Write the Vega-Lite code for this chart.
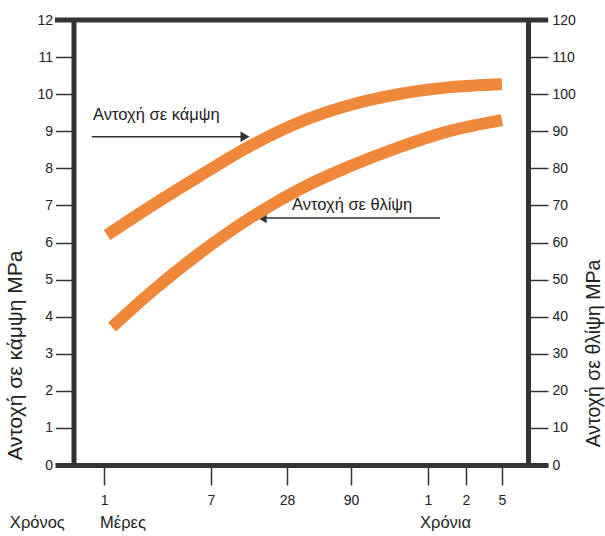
{
  "$schema": "https://vega.github.io/schema/vega-lite/v6.json",
  "width": 493,
  "height": 445,
  "autosize": "none",
  "padding": {"left": 55, "top": 20, "right": 57, "bottom": 71},
  "config": {
    "view": {"stroke": null},
    "font": "Liberation Sans",
    "axis": {
      "domainColor": "#333333",
      "domainWidth": 5,
      "tickColor": "#333333",
      "tickWidth": 1.5,
      "labelColor": "#222222",
      "labelFont": "Liberation Sans",
      "labelFontSize": 14,
      "labelOverlap": false,
      "grid": false,
      "titleFont": "Liberation Sans",
      "titleFontWeight": "normal",
      "titleColor": "#222222"
    },
    "axisLeft": {
      "values": [0, 1, 2, 3, 4, 5, 6, 7, 8, 9, 10, 11, 12],
      "offset": -18.5,
      "tickSize": 18,
      "labelPadding": 3,
      "labelOverlap": false,
      "titleFontSize": 21,
      "titleAngle": 270,
      "titleX": -52,
      "titleY": 335,
      "titleAlign": "center",
      "titleBaseline": "alphabetic"
    }
  },
  "datasets": {
    "flex": [
      {"days": 1.056, "v": 6.2},
      {"days": 2.31, "v": 6.96},
      {"days": 5.75, "v": 7.8},
      {"days": 14.3, "v": 8.6},
      {"days": 35.5, "v": 9.25},
      {"days": 88.4, "v": 9.71},
      {"days": 220, "v": 10.01},
      {"days": 546, "v": 10.19},
      {"days": 1825, "v": 10.27}
    ],
    "comp": [
      {"days": 1.157, "v": 37.2},
      {"days": 2.31, "v": 46.4},
      {"days": 5.75, "v": 57.2},
      {"days": 14.3, "v": 66.6},
      {"days": 35.5, "v": 74.4},
      {"days": 88.4, "v": 80.6},
      {"days": 220, "v": 85.8},
      {"days": 546, "v": 90.1},
      {"days": 1825, "v": 93.0}
    ],
    "arrows": [
      {"x1": 0.8, "x2": 13.05, "y": 8.85},
      {"x1": 17.8, "x2": 455, "y": 6.66}
    ],
    "heads": [
      {"x": 13.05, "y": 8.85, "shape": "triangle-right"},
      {"x": 17.8, "y": 6.66, "shape": "triangle-left"}
    ],
    "labels": [
      {"x": 0.82, "y": 9.44, "text": "Αντοχή σε κάμψη"},
      {"x": 30.7, "y": 7.01, "text": "Αντοχή σε θλίψη"},
      {"x": 0.18, "y": -1.56, "text": "Χρόνος"},
      {"x": 0.93, "y": -1.56, "text": "Μέρες"},
      {"x": 316, "y": -1.56, "text": "Χρόνια"}
    ]
  },
  "layer": [
    {
      "layer": [
        {
          "data": {"name": "flex"},
          "mark": {"type": "line", "color": "#F0883C", "strokeWidth": 12, "strokeCap": "butt", "interpolate": "monotone"},
          "encoding": {
            "x": {
              "field": "days", "type": "quantitative",
              "scale": {"type": "log", "domain": [0.4095, 730, 1825, 5900], "range": [0, 411, 447, 493], "nice": false},
              "axis": {
                "values": [1, 7, 28, 90, 365, 730, 1825],
                "labelExpr": "datum.value == 365 ? '1' : datum.value == 730 ? '2' : datum.value == 1825 ? '5' : format(datum.value, 'd')",
                "tickSize": 20,
                "labelPadding": 8,
                "title": null,
                "labelOverlap": false,
                "labelFlush": false
              }
            },
            "y": {
              "field": "v", "type": "quantitative",
              "scale": {"domain": [0, 12], "nice": false},
              "axis": {"orient": "left", "values": [0, 1, 2, 3, 4, 5, 6, 7, 8, 9, 10, 11, 12], "title": "Αντοχή σε κάμψη MPa", "titleFontSize": 21}
            }
          }
        },
        {
          "data": {"values": [{"v": 12}]},
          "mark": {"type": "rule", "color": "#333333", "strokeWidth": 5},
          "encoding": {
            "y": {"field": "v", "type": "quantitative", "scale": {"domain": [0, 12], "nice": false},
              "axis": {"orient": "left", "values": [0, 1, 2, 3, 4, 5, 6, 7, 8, 9, 10, 11, 12], "title": "Αντοχή σε κάμψη MPa", "titleFontSize": 21}}
          }
        },
        {
          "data": {"name": "arrows"},
          "mark": {"type": "rule", "color": "#333333", "strokeWidth": 1.5},
          "encoding": {
            "x": {"field": "x1", "type": "quantitative", "scale": {"type": "log", "domain": [0.4095, 730, 1825, 5900], "range": [0, 411, 447, 493], "nice": false}},
            "x2": {"field": "x2"},
            "y": {"field": "y", "type": "quantitative", "scale": {"domain": [0, 12], "nice": false},
              "axis": {"orient": "left", "values": [0, 1, 2, 3, 4, 5, 6, 7, 8, 9, 10, 11, 12], "title": "Αντοχή σε κάμψη MPa", "titleFontSize": 21}}
          }
        },
        {
          "data": {"name": "heads"},
          "mark": {"type": "point", "filled": true, "color": "#333333", "size": 110, "opacity": 1},
          "encoding": {
            "x": {"field": "x", "type": "quantitative", "scale": {"type": "log", "domain": [0.4095, 730, 1825, 5900], "range": [0, 411, 447, 493], "nice": false}},
            "y": {"field": "y", "type": "quantitative", "scale": {"domain": [0, 12], "nice": false},
              "axis": {"orient": "left", "values": [0, 1, 2, 3, 4, 5, 6, 7, 8, 9, 10, 11, 12], "title": "Αντοχή σε κάμψη MPa", "titleFontSize": 21}},
            "shape": {"field": "shape", "type": "nominal", "scale": null}
          }
        },
        {
          "data": {"name": "labels"},
          "mark": {"type": "text", "align": "left", "baseline": "middle", "fontSize": 16.5, "color": "#222222", "font": "Liberation Sans"},
          "encoding": {
            "x": {"field": "x", "type": "quantitative", "scale": {"type": "log", "domain": [0.4095, 730, 1825, 5900], "range": [0, 411, 447, 493], "nice": false}},
            "y": {"field": "y", "type": "quantitative", "scale": {"domain": [0, 12], "nice": false},
              "axis": {"orient": "left", "values": [0, 1, 2, 3, 4, 5, 6, 7, 8, 9, 10, 11, 12], "title": "Αντοχή σε κάμψη MPa", "titleFontSize": 21}},
            "text": {"field": "text"}
          }
        }
      ]
    },
    {
      "data": {"name": "comp"},
      "mark": {"type": "line", "color": "#F0883C", "strokeWidth": 12, "strokeCap": "butt", "interpolate": "monotone"},
      "encoding": {
        "x": {"field": "days", "type": "quantitative", "scale": {"type": "log", "domain": [0.4095, 730, 1825, 5900], "range": [0, 411, 447, 493], "nice": false}},
        "y": {
          "field": "v", "type": "quantitative",
          "scale": {"domain": [0, 120], "nice": false},
          "axis": {
            "orient": "right",
            "values": [0, 10, 20, 30, 40, 50, 60, 70, 80, 90, 100, 110, 120],
            "offset": -20,
            "tickSize": 20,
            "labelPadding": 4,
            "labelOverlap": false,
            "title": "Αντοχή σε θλίψη MPa",
            "titleFontSize": 19.5,
            "titleAngle": 270,
            "titleX": 71,
            "titleY": 333,
            "titleAlign": "center",
            "titleBaseline": "alphabetic"
          }
        }
      }
    }
  ],
  "resolve": {"scale": {"y": "independent"}}
}
